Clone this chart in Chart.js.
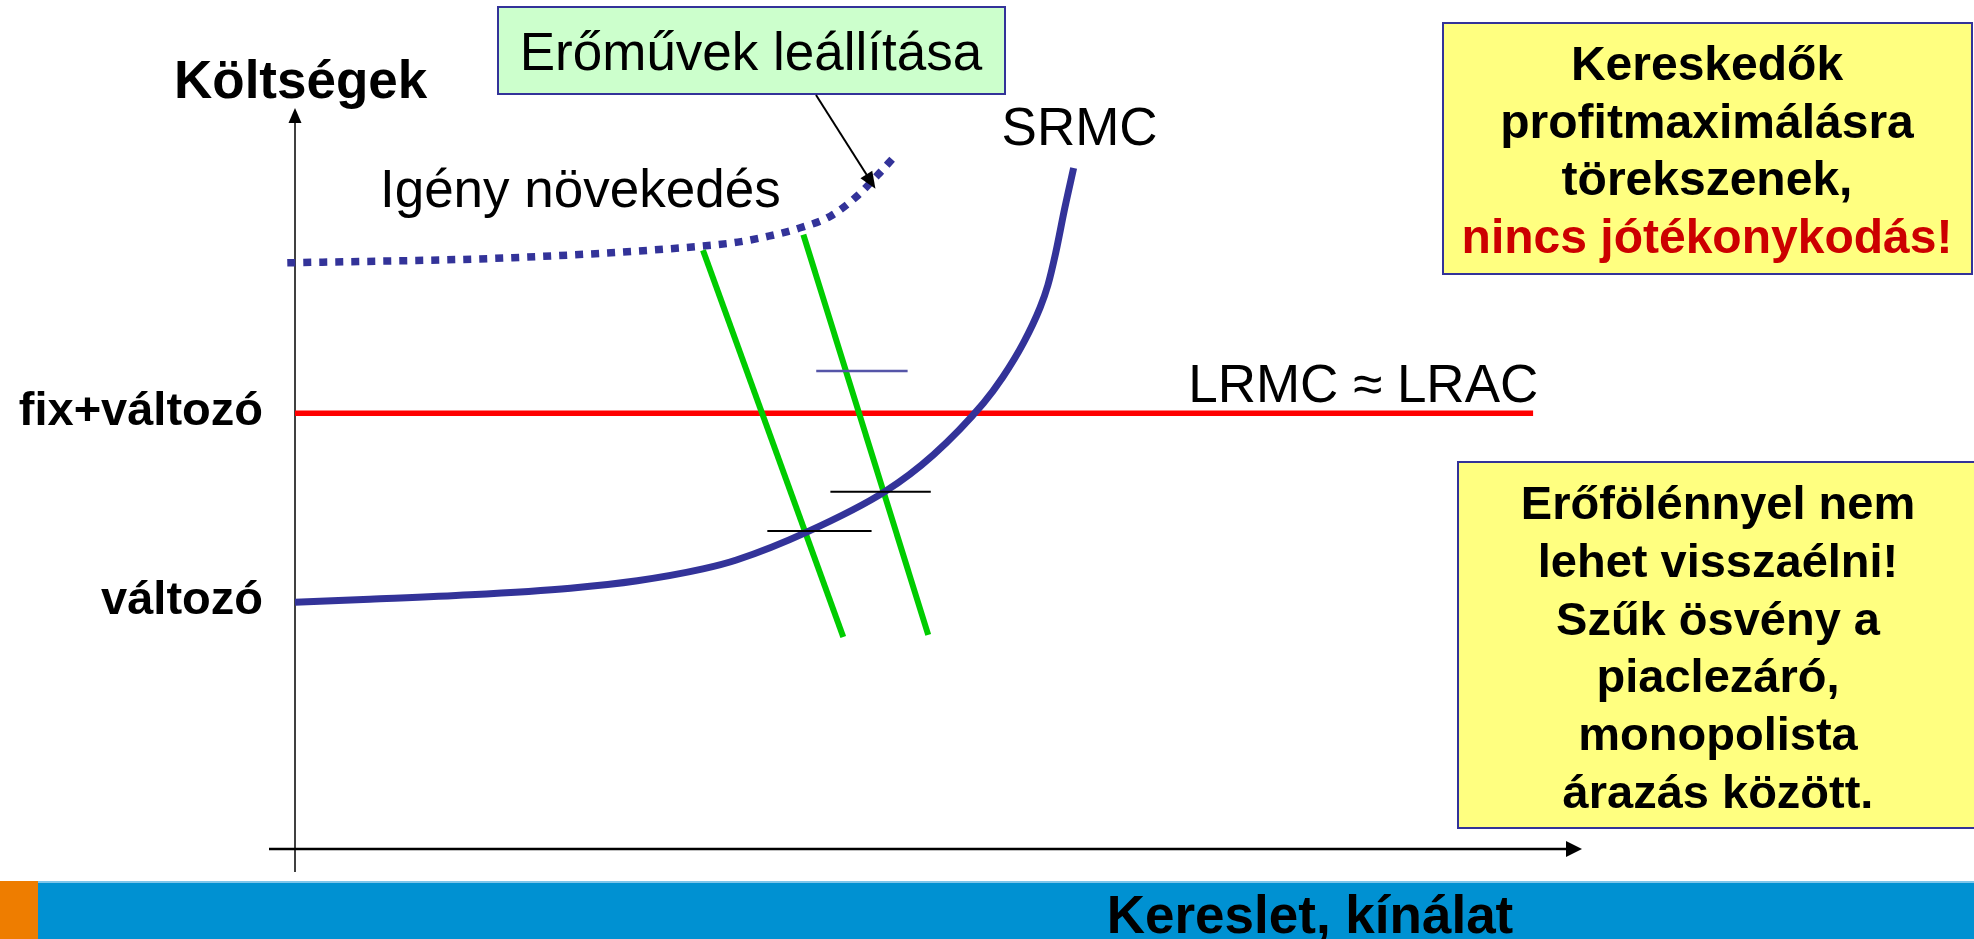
<!DOCTYPE html>
<html>
<head>
<meta charset="utf-8">
<script src="https://cdn.jsdelivr.net/npm/chart.js@4.4.1/dist/chart.umd.min.js"></script>
<style>
  html, body { margin: 0; padding: 0; background: #fff; }
  canvas { display: block; }
</style>
</head>
<body>
<canvas id="costChart" width="1974" height="939"></canvas>
<script>
const FONT = '"Liberation Sans", Arial, sans-serif';

// axis texts
const yTickValues = [33.3, 58.8];
const yTickLabels = ['változó', 'fix+változó'];
const xAxisTitle = 'Kereslet, kínálat';
const yAxisTitle = 'Költségek';

// SRMC curve
const srmcX = [0, 5.8, 13.6, 21.4, 26.6, 31.7, 34.3, 39.8, 45.8, 49.6, 53.5, 55.0, 56.6, 57.9, 58.5, 59.1, 59.8, 60.5];
const srmcY = [33.3, 33.7, 34.3, 35.2, 36.2, 37.8, 39.0, 42.8, 48.2, 53.2, 60.2, 63.7, 68.3, 73.1, 76.1, 80.4, 86.4, 91.9];

// Igény növekedés (dotted)
const growthX = [-0.6, 16.9, 31.9, 34.4, 36.8, 39.2, 41.6, 43.6, 45.3, 46.4];
const growthY = [79.1, 79.8, 81.4, 81.9, 82.7, 83.8, 85.4, 88.0, 91.0, 93.1];

// LRMC ≈ LRAC
const lrmcX = [0, 96.2];
const lrmcY = [58.8, 58.8];

// green demand lines
const demand1X = [31.7, 42.6];
const demand1Y = [80.8, 28.6];
const demand2X = [39.5, 49.2];
const demand2Y = [82.9, 28.9];

// short price marks
const priceBlueX = [40.5, 47.6];
const priceBlueY = [64.5, 64.5];
const priceAX = [41.6, 49.4];
const priceAY = [48.2, 48.2];
const priceBX = [36.7, 44.8];
const priceBY = [42.9, 42.9];

const pts = (xs, ys) => xs.map((x, i) => ({ x: x, y: ys[i] }));

// labels next to the curves, in data units
const curveLabels = [
    { text: 'Igény növekedés', x: 6.6, y: 86.6 },
    { text: 'SRMC', x: 54.9, y: 95.0 },
    { text: 'LRMC ≈ LRAC', x: 69.4, y: 60.3 },
];

function arrowHead(ctx, x1, y1, x2, y2, len, half) {
    const a = Math.atan2(y2 - y1, x2 - x1);
    ctx.beginPath();
    ctx.moveTo(x2, y2);
    ctx.lineTo(x2 - len * Math.cos(a) + half * Math.sin(a), y2 - len * Math.sin(a) - half * Math.cos(a));
    ctx.lineTo(x2 - len * Math.cos(a) - half * Math.sin(a), y2 - len * Math.sin(a) + half * Math.cos(a));
    ctx.closePath();
    ctx.fill();
}

function box(ctx, x, y, w, h, fill) {
    ctx.fillStyle = fill;
    ctx.fillRect(x, y, w, h);
    ctx.strokeStyle = '#333399';
    ctx.lineWidth = 2;
    ctx.strokeRect(x, y, w, h);
}

function lines(ctx, rows, cx, y0, step) {
    ctx.textAlign = 'center';
    ctx.textBaseline = 'alphabetic';
    rows.forEach((r, i) => {
        ctx.fillStyle = r.color || '#000';
        ctx.fillText(r.text, cx, y0 + i * step);
    });
}

const slidePlugin = {
    id: 'slide',
    beforeDraw(chart) {
        const ctx = chart.ctx;
        ctx.save();
        ctx.fillStyle = '#fff';
        ctx.fillRect(0, 0, chart.width, chart.height);
        // footer band
        ctx.fillStyle = '#0091d2';
        ctx.fillRect(0, 881, chart.width, 58);
        ctx.fillStyle = '#7fc6ea';
        ctx.fillRect(0, 881, chart.width, 2);
        ctx.fillStyle = '#ee7d00';
        ctx.fillRect(0, 881, 38, 58);
        ctx.restore();
    },
    beforeDatasetsDraw(chart) {
        const ctx = chart.ctx;
        const x = chart.scales.x, y = chart.scales.y;
        const x0 = x.getPixelForValue(0), xTip = x.getPixelForValue(100);
        const y0 = y.getPixelForValue(0), yTip = y.getPixelForValue(100);
        ctx.save();
        ctx.strokeStyle = '#000';
        ctx.fillStyle = '#000';
        // y axis
        ctx.lineWidth = 1.5;
        ctx.beginPath();
        ctx.moveTo(x0, y0 + 23);
        ctx.lineTo(x0, yTip + 10);
        ctx.stroke();
        arrowHead(ctx, x0, y0, x0, yTip, 15, 6.5);
        // x axis
        ctx.lineWidth = 2.5;
        ctx.beginPath();
        ctx.moveTo(x0 - 26, y0);
        ctx.lineTo(xTip - 10, y0);
        ctx.stroke();
        arrowHead(ctx, x0, y0, xTip, y0, 16, 8);
        ctx.restore();
    },
    afterDraw(chart) {
        const ctx = chart.ctx;
        const x = chart.scales.x, y = chart.scales.y;
        ctx.save();

        // axis titles
        ctx.fillStyle = '#000';
        ctx.font = 'bold 53px ' + FONT;
        ctx.textAlign = 'left';
        ctx.textBaseline = 'alphabetic';
        ctx.fillText(yAxisTitle, 174, 98);
        ctx.textAlign = 'center';
        ctx.fillText(xAxisTitle, 1310, 933);

        // curve labels
        ctx.font = '53px ' + FONT;
        ctx.textAlign = 'left';
        curveLabels.forEach(l => {
            ctx.fillText(l.text, x.getPixelForValue(l.x), y.getPixelForValue(l.y));
        });

        // "Erőművek leállítása" box with pointer
        box(ctx, 498, 7, 507, 87, '#ccffcc');
        ctx.fillStyle = '#000';
        ctx.font = '53px ' + FONT;
        lines(ctx, [{ text: 'Erőművek leállítása' }], 751, 70, 0);
        const tipX = x.getPixelForValue(45.1), tipY = y.getPixelForValue(89.1);
        ctx.strokeStyle = '#000';
        ctx.fillStyle = '#000';
        ctx.lineWidth = 2;
        ctx.beginPath();
        ctx.moveTo(816, 95);
        ctx.lineTo(tipX - 5, tipY - 8);
        ctx.stroke();
        arrowHead(ctx, 816, 95, tipX, tipY, 17, 7);

        // yellow notes
        box(ctx, 1443, 23, 529, 251, '#ffff80');
        ctx.font = 'bold 48px ' + FONT;
        lines(ctx, [
            { text: 'Kereskedők' },
            { text: 'profitmaximálásra' },
            { text: 'törekszenek,' },
            { text: 'nincs jótékonykodás!', color: '#cc0000' },
        ], 1707, 80, 57.7);

        box(ctx, 1458, 462, 520, 366, '#ffff80');
        ctx.font = 'bold 47px ' + FONT;
        lines(ctx, [
            { text: 'Erőfölénnyel nem' },
            { text: 'lehet visszaélni!' },
            { text: 'Szűk ösvény a' },
            { text: 'piaclezáró,' },
            { text: 'monopolista' },
            { text: 'árazás között.' },
        ], 1718, 519, 57.8);

        ctx.restore();
    }
};

new Chart(document.getElementById('costChart').getContext('2d'), {
    type: 'line',
    data: {
        datasets: [
            { label: 'priceBlue', data: pts(priceBlueX, priceBlueY), borderColor: '#5555a8', borderWidth: 2.5, order: 0 },
            { label: 'priceA', data: pts(priceAX, priceAY), borderColor: '#000', borderWidth: 2, order: 0 },
            { label: 'priceB', data: pts(priceBX, priceBY), borderColor: '#000', borderWidth: 2, order: 0 },
            { label: 'SRMC', data: pts(srmcX, srmcY), borderColor: '#333399', borderWidth: 7, cubicInterpolationMode: 'monotone', order: 1 },
            { label: 'demand1', data: pts(demand1X, demand1Y), borderColor: '#00cc00', borderWidth: 6, order: 2 },
            { label: 'demand2', data: pts(demand2X, demand2Y), borderColor: '#00cc00', borderWidth: 6, order: 2 },
            { label: 'LRMC', data: pts(lrmcX, lrmcY), borderColor: '#ff0000', borderWidth: 5.5, order: 3 },
            { label: 'Igény növekedés', data: pts(growthX, growthY), borderColor: '#333399', borderWidth: 7.5,
              borderDash: [8, 8], borderCapStyle: 'butt', cubicInterpolationMode: 'monotone', clip: false, order: 4 },
        ]
    },
    options: {
        responsive: false,
        animation: false,
        devicePixelRatio: 1,
        layout: { padding: { left: 0, top: 108, right: 392, bottom: 90 } },
        elements: { point: { radius: 0 }, line: { fill: false } },
        plugins: { legend: { display: false }, tooltip: { enabled: false } },
        scales: {
            x: { type: 'linear', min: 0, max: 100, display: false },
            y: {
                type: 'linear', min: 0, max: 100,
                grid: { display: false },
                border: { display: false },
                afterBuildTicks: (s) => { s.ticks = yTickValues.map(v => ({ value: v })); },
                afterFit: (s) => { s.width = 295; },
                ticks: {
                    autoSkip: false,
                    padding: 24,
                    labelOffset: -1,
                    color: '#000',
                    font: { family: FONT, size: 47, weight: 'bold' },
                    callback: (v) => yTickLabels[yTickValues.indexOf(v)]
                }
            }
        }
    },
    plugins: [slidePlugin]
});
</script>
</body>
</html>
